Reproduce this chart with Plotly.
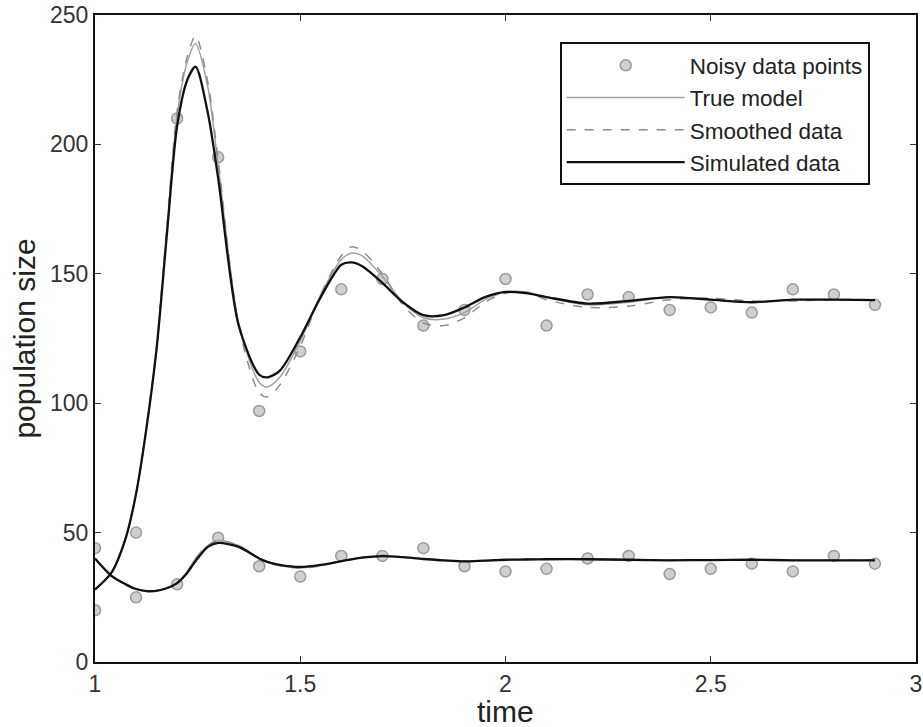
import plotly.graph_objects as go

# Noisy observations (sampled every 0.1 time units)
t_obs = [1.0, 1.1, 1.2, 1.3, 1.4, 1.5, 1.6, 1.7, 1.8, 1.9,
         2.0, 2.1, 2.2, 2.3, 2.4, 2.5, 2.6, 2.7, 2.8, 2.9]
prey_obs = [20, 50, 210, 195, 97, 120, 144, 148, 130, 136,
            148, 130, 142, 141, 136, 137, 135, 144, 142, 138]
pred_obs = [44, 25, 30, 48, 37, 33, 41, 41, 44, 37,
            35, 36, 40, 41, 34, 36, 38, 35, 41, 38]

# Curves
t_curve = [1.0, 1.04, 1.075, 1.1, 1.125, 1.15, 1.175, 1.2, 1.225, 1.245,
           1.275, 1.3, 1.35, 1.4, 1.42, 1.45, 1.5, 1.55, 1.6, 1.625,
           1.65, 1.7, 1.75, 1.8, 1.85, 1.9, 1.95, 2.0, 2.05, 2.1,
           2.2, 2.3, 2.4, 2.5, 2.6, 2.7, 2.8, 2.9]

prey_true = [28, 34.5, 48, 65, 90, 121, 167, 211, 232, 239,
             222, 192, 131, 108, 106.3, 110, 124, 142, 155.5, 158,
             157, 149, 139, 133, 132.5, 135, 140, 143, 143, 141,
             138, 139, 141, 140, 139, 140, 140, 140]
prey_smooth = [28, 34.5, 48, 65, 90, 122, 168, 213, 234, 242,
               224, 194, 130, 104, 102.4, 107, 122, 142, 157, 160.4,
               159, 150, 138, 131, 130, 133, 139, 142.5, 143, 140,
               137, 137.5, 140, 140.5, 139.5, 139.5, 140, 140]
prey_sim = [28, 34.5, 48, 65, 90, 121, 165, 207, 225, 230,
            212, 187, 130, 111, 110, 112.5, 125.5, 141, 153.5, 154.4,
            153, 146.5, 139, 134, 134, 137, 141, 143, 142.5, 141,
            138.5, 139.5, 141, 140, 139, 140, 140, 139.8]

pred_true = [40, 33.3, 30, 28.2, 27.4, 27.6, 28.6, 30.5, 35, 40,
             45, 47, 45, 40, 38.5, 37.3, 36.4, 37.3, 39, 39.8,
             40.4, 41, 40.5, 39.8, 39.2, 38.9, 39.2, 39.5, 39.7, 39.7,
             39.7, 39.5, 39.3, 39.4, 39.5, 39.3, 39.3, 39.3]
pred_smooth = [40, 33.3, 30, 28.2, 27.4, 27.6, 28.6, 30.5, 35, 40,
               45, 47, 45, 40, 38.5, 37.2, 36.3, 37.2, 39, 39.8,
               40.5, 41.2, 40.6, 39.8, 39.1, 38.8, 39.1, 39.5, 39.7, 39.7,
               39.7, 39.5, 39.3, 39.4, 39.5, 39.3, 39.3, 39.3]
pred_sim = [40, 33.3, 30, 28.2, 27.4, 27.5, 28.5, 30.5, 34.5, 39,
            44.5, 46, 44.5, 40, 38.7, 37.5, 36.7, 37.5, 39, 39.7,
            40.3, 40.9, 40.5, 39.8, 39.3, 38.9, 39.2, 39.5, 39.6, 39.7,
            39.7, 39.5, 39.3, 39.4, 39.5, 39.3, 39.3, 39.3]

labels = ["Noisy data points", "True model", "Smoothed data", "Simulated data"]
x_ticks = [1, 1.5, 2, 2.5, 3]
x_ticklabels = ["1", "1.5", "2", "2.5", "3"]
y_ticks = [0, 50, 100, 150, 200, 250]
x_title = "time"
y_title = "population size"

FONT = "Liberation Sans, Arial, sans-serif"

fig = go.Figure()

marker_style = dict(size=11, color="#cfcfcf", line=dict(color="#9a9a9a", width=1.5))
for i, ys in enumerate([prey_obs, pred_obs]):
    fig.add_trace(go.Scatter(x=t_obs, y=ys, mode="markers", marker=marker_style,
                             name=labels[0], legendgroup="g0", showlegend=(i == 0)))

styles = [
    (labels[1], "g1", dict(color="#a0a0a0", width=1.5), [prey_true, pred_true]),
    (labels[2], "g2", dict(color="#8c8c8c", width=1.5, dash="dash"), [prey_smooth, pred_smooth]),
    (labels[3], "g3", dict(color="#111111", width=2.3), [prey_sim, pred_sim]),
]
for name, grp, ln, series in styles:
    for i, ys in enumerate(series):
        fig.add_trace(go.Scatter(x=t_curve, y=ys, mode="lines",
                                 line=dict(shape="spline", smoothing=0.8, **ln),
                                 name=name, legendgroup=grp, showlegend=(i == 0)))

fig.update_layout(
    width=923, height=727,
    margin=dict(l=95, r=7, t=15, b=65),
    paper_bgcolor="white", plot_bgcolor="white",
    font=dict(family=FONT, color="#333333"),
    showlegend=True,
    legend=dict(
        x=0.566, y=0.958, xanchor="left", yanchor="top",
        bgcolor="white", bordercolor="#111111", borderwidth=2,
        font=dict(size=22.5, color="#222222", family=FONT),
        itemwidth=118, tracegroupgap=0, traceorder="grouped",
    ),
    xaxis=dict(
        range=[1, 3], tickvals=x_ticks, ticktext=x_ticklabels,
        ticks="inside", ticklen=6, tickcolor="#333333",
        showline=True, linecolor="#111111", linewidth=2, mirror="ticks",
        showgrid=False, zeroline=False, automargin=False,
        tickfont=dict(size=23, color="#333333"),
    ),
    yaxis=dict(
        range=[0, 250], tickvals=y_ticks,
        ticks="inside", ticklen=6, tickcolor="#333333",
        showline=True, linecolor="#111111", linewidth=2, mirror="ticks",
        showgrid=False, zeroline=False, automargin=False,
        tickfont=dict(size=23, color="#333333"),
        title=dict(text=y_title, font=dict(size=30, color="#222222"), standoff=6),
    ),
    annotations=[dict(
        text=x_title, xref="paper", yref="paper", x=0.5, y=-0.077,
        xanchor="center", yanchor="middle", showarrow=False,
        font=dict(size=30, color="#222222", family=FONT),
    )],
)

fig.write_html("out.html", config={"displayModeBar": False},
               post_script="document.body.style.margin='0';document.body.style.overflow='hidden';")
